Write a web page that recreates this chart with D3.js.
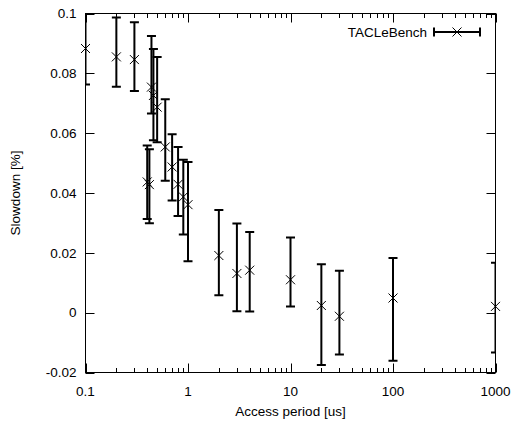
<!DOCTYPE html>
<html>
<head>
<meta charset="utf-8">
<script src="https://cdn.jsdelivr.net/npm/d3@7"></script>
<style>
  html, body { margin: 0; padding: 0; background: #fff; }
  svg { display: block; }
  text { font-family: "Liberation Sans", Arial, sans-serif; fill: #000; }
</style>
</head>
<body>
<svg id="chart" width="512" height="432"></svg>
<script>
// Data
const accessPeriod = [0.1, 0.2, 0.3, 0.4, 0.42, 0.44, 0.46, 0.5, 0.6, 0.7, 0.8, 0.9, 1, 2, 3, 4, 10, 20, 30, 100, 1000];
const slowdown     = [0.0883, 0.0855, 0.0846, 0.0437, 0.0428, 0.0754, 0.0726, 0.0687, 0.0554, 0.0487, 0.0429, 0.0387, 0.0361, 0.0191, 0.0131, 0.0142, 0.0110, 0.0024, -0.0012, 0.0049, 0.0021];
const slowdownLow  = [0.0763, 0.0755, 0.0741, 0.0313, 0.0299, 0.0666, 0.0576, 0.0570, 0.0441, 0.0375, 0.0323, 0.0261, 0.0172, 0.0058, 0.0005, 0.0004, 0.0021, -0.0175, -0.0140, -0.0161, -0.0133];
const slowdownHigh = [0.1005, 0.0987, 0.0971, 0.0559, 0.0546, 0.0925, 0.0881, 0.0855, 0.0713, 0.0596, 0.0554, 0.0511, 0.0504, 0.0343, 0.0298, 0.0270, 0.0251, 0.0162, 0.0140, 0.0183, 0.0167];
const yTicks = [-0.02, 0, 0.02, 0.04, 0.06, 0.08, 0.1];
const yTickLabels = ["-0.02", "0", "0.02", "0.04", "0.06", "0.08", "0.1"];
const xMajorTicks = [0.1, 1, 10, 100, 1000];
const xTickLabels = ["0.1", "1", "10", "100", "1000"];
const seriesName = "TACLeBench";
const xTitle = "Access period [us]";
const yTitle = "Slowdown [%]";

const svg = d3.select("#chart");
const L = 85.5, R = 495.5, T = 13.5, B = 372.5;
const x = d3.scaleLog().domain([0.1, 1000]).range([L, R]);
const y = d3.scaleLinear().domain([-0.02, 0.1]).range([B, T]);
const FS = 13.5;

svg.append("defs").append("clipPath").attr("id", "plotclip")
  .append("rect").attr("x", L).attr("y", T).attr("width", R - L).attr("height", B - T);

// Ticks (inward, mirrored)
const tickG = svg.append("g").attr("stroke", "#000").attr("stroke-width", 1);
const allX = x.ticks().filter(v => v >= 0.1 && v <= 1000);
allX.forEach(v => {
  const major = xMajorTicks.some(m => Math.abs(m - v) / m < 1e-6);
  const len = major ? 9 : 4.5;
  const px = Math.round(x(v)) + 0.5;
  tickG.append("line").attr("x1", px).attr("x2", px).attr("y1", B).attr("y2", B - len);
  tickG.append("line").attr("x1", px).attr("x2", px).attr("y1", T).attr("y2", T + len);
});
yTicks.forEach(v => {
  const py = Math.round(y(v)) + 0.5;
  tickG.append("line").attr("x1", L).attr("x2", L + 9).attr("y1", py).attr("y2", py);
  tickG.append("line").attr("x1", R).attr("x2", R - 9).attr("y1", py).attr("y2", py);
});

// Tick labels
svg.append("g").selectAll("text").data(yTicks).join("text")
  .attr("x", L - 9).attr("y", d => y(d)).attr("dy", "0.35em")
  .attr("text-anchor", "end").attr("font-size", FS)
  .text((d, i) => yTickLabels[i]);
svg.append("g").selectAll("text").data(xMajorTicks).join("text")
  .attr("x", d => x(d)).attr("y", B + 23)
  .attr("text-anchor", "middle").attr("font-size", FS)
  .text((d, i) => xTickLabels[i]);

// Axis titles
svg.append("text").attr("x", (L + R) / 2).attr("y", 416).attr("text-anchor", "middle")
  .attr("font-size", FS).text(xTitle);
svg.append("text").attr("transform", `translate(20,${(T + B) / 2}) rotate(-90)`)
  .attr("text-anchor", "middle").attr("font-size", FS).text(yTitle);

// Error bars (clipped)
const capW = 4.5;
const eb = svg.append("g").attr("clip-path", "url(#plotclip)")
  .attr("stroke", "#000").attr("stroke-width", 2).attr("fill", "none");
accessPeriod.forEach((xv, i) => {
  const px = x(xv);
  const yl = y(slowdownLow[i]), yh = y(slowdownHigh[i]);
  eb.append("line").attr("x1", px).attr("x2", px).attr("y1", yl).attr("y2", yh);
  eb.append("line").attr("x1", px - capW).attr("x2", px + capW).attr("y1", yl).attr("y2", yl);
  eb.append("line").attr("x1", px - capW).attr("x2", px + capW).attr("y1", yh).attr("y2", yh);
});

// Point markers (x)
const ms = 4.5;
const pts = svg.append("g").attr("stroke", "#000").attr("stroke-width", 1);
accessPeriod.forEach((xv, i) => {
  const px = x(xv), py = y(slowdown[i]);
  pts.append("path").attr("d", `M${px - ms},${py - ms}L${px + ms},${py + ms}M${px - ms},${py + ms}L${px + ms},${py - ms}`);
});

// Border
svg.append("rect").attr("x", L).attr("y", T).attr("width", R - L).attr("height", B - T)
  .attr("fill", "none").attr("stroke", "#000").attr("stroke-width", 1);

// Legend
const ly = 32;
svg.append("text").attr("x", 427).attr("y", ly).attr("dy", "0.35em")
  .attr("text-anchor", "end").attr("font-size", FS).text(seriesName);
const lg = svg.append("g").attr("stroke", "#000");
lg.append("line").attr("x1", 434).attr("x2", 480).attr("y1", ly).attr("y2", ly).attr("stroke-width", 2);
lg.append("line").attr("x1", 434).attr("x2", 434).attr("y1", ly - capW).attr("y2", ly + capW).attr("stroke-width", 2);
lg.append("line").attr("x1", 480).attr("x2", 480).attr("y1", ly - capW).attr("y2", ly + capW).attr("stroke-width", 2);
lg.append("path").attr("stroke-width", 1)
  .attr("d", `M${457 - ms},${ly - ms}L${457 + ms},${ly + ms}M${457 - ms},${ly + ms}L${457 + ms},${ly - ms}`);
</script>
</body>
</html>
